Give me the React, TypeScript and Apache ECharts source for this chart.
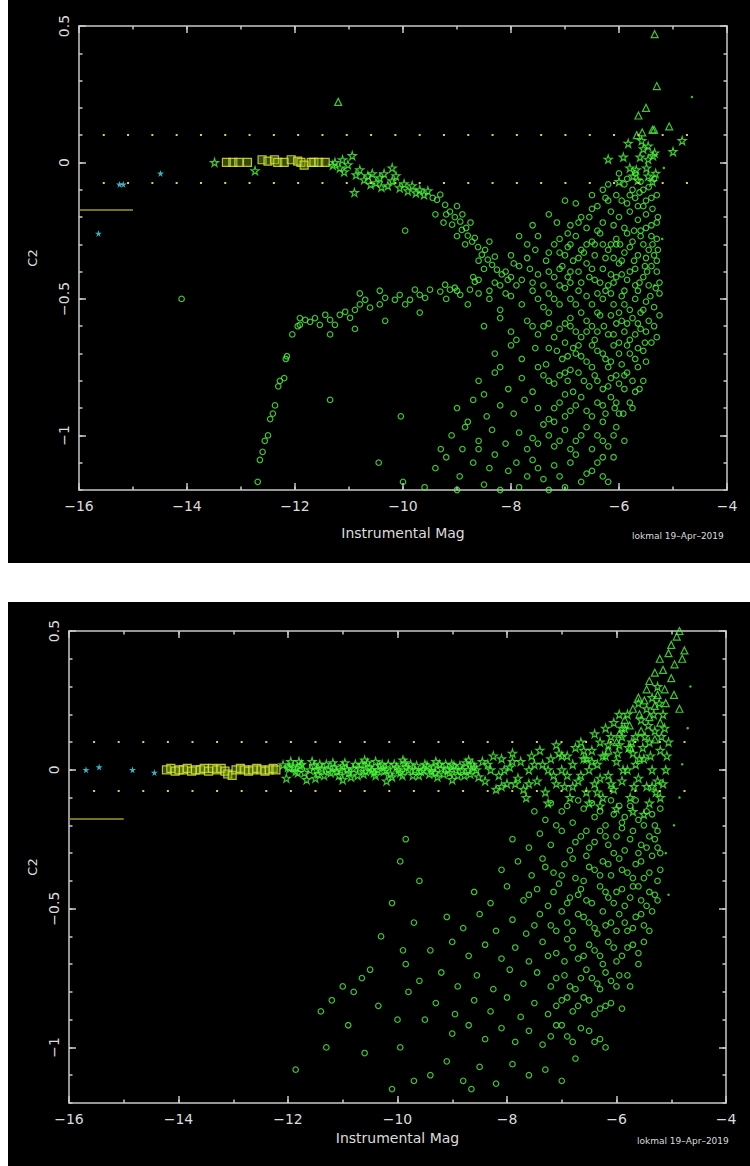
import React, { useEffect, useRef } from "react";
import * as echarts from "echarts";

// ---------- TOP PANEL DATA (x = instrumental mag, y = C2) ----------
const topCyanStars = [-15.25, -0.08, -15.18, -0.08, -14.49, -0.04, -15.64, -0.26];
const topSquares = [
  -13.27, 0.0, -13.15, 0.0, -13.04, 0.0, -12.88, 0.0, -12.61, 0.01, -12.5, 0.005, -12.38, 0.01, -12.32, 0.0,
  -12.2, 0.0, -12.07, 0.01, -11.95, 0.005, -11.89, 0.0, -11.83, -0.01, -11.7, 0.0, -11.65, 0.0, -11.56, 0.0, -11.44, 0.0,
];
const topStars = [
  -13.49, 0.0, -12.74, -0.03,
  -11.26, 0.0, -11.17, -0.02, -11.09, -0.034, -11.02, -0.008, -10.94, 0.025, -10.87, -0.045, -10.8, -0.027,
  -10.72, -0.063, -10.65, -0.049, -10.57, -0.041, -10.5, -0.074, -10.43, -0.056, -10.35, -0.041, -10.28, -0.085,
  -10.2, -0.067, -10.13, -0.049, -10.06, -0.093, -9.98, -0.078, -9.91, -0.104, -9.83, -0.085, -9.76, -0.111,
  -9.69, -0.1, -9.61, -0.118, -9.54, -0.104, -10.9, -0.11, -10.2, -0.02, -11.3, -0.01, -11.12, 0.01, -10.6, -0.08,
  -10.4, -0.09,
  -5.83, 0.07, -6.2, 0.012, -5.92, 0.02, -5.58, 0.08, -5.46, 0.06, -5.55, 0.05, -5.61, 0.02, -5.46, 0.012,
  -5.37, 0.025, -5.34, 0.035, -5.8, -0.02, -5.68, -0.027, -5.49, -0.02, -5.46, -0.05, -5.74, -0.05, -5.65, -0.065,
  -5.38, -0.07, -6.0, -0.07, -5.32, -0.04, -4.83, 0.08, -5.0, 0.04,
];
const topTriangles = [
  -11.2, 0.222, -5.34, 0.47, -5.3, 0.28, -5.5, 0.2, -5.64, 0.172, -5.38, 0.12, -5.35, 0.12, -5.07, 0.132,
  -5.67, 0.1, -5.57, 0.11,
];
const topDots = [-4.65, 0.24, -5.17, -0.02, -5.2, -0.28, -5.34, -0.45];
const topCircles = [
  -14.1, -0.5, -9.96, -0.25, -10.04, -0.93, -10.45, -1.1, -11.35, -0.87,
  // hook
  -11.91, -0.57, -11.95, -0.6, -12.05, -0.63, -12.15, -0.71, -12.17, -0.72, -12.2, -0.79, -12.28, -0.8,
  -12.31, -0.82, -12.37, -0.89, -12.41, -0.92, -12.46, -0.94, -12.5, -1.0, -12.56, -1.02, -12.6, -1.06,
  -12.65, -1.09, -12.69, -1.17,
  // lower branch
  -11.81, -0.577, -11.91, -0.595, -11.72, -0.584, -11.63, -0.57, -11.54, -0.595, -11.44, -0.558, -11.35, -0.577,
  -11.26, -0.595, -11.17, -0.558, -11.07, -0.547, -10.98, -0.569, -10.89, -0.54, -10.8, -0.52, -10.7, -0.503,
  -10.61, -0.532, -10.43, -0.52, -10.33, -0.496, -10.15, -0.503, -10.06, -0.485, -9.96, -0.52, -9.87, -0.503,
  -9.78, -0.466, -9.69, -0.485, -9.59, -0.496, -9.5, -0.466, -9.31, -0.473, -9.22, -0.448, -9.13, -0.466,
  -9.04, -0.459, -8.94, -0.485, -8.76, -0.466, -8.67, -0.437, -11.35, -0.63, -10.89, -0.61, -10.33, -0.58,
  -9.69, -0.55, -10.43, -0.47, -10.8, -0.48,
  // upper branch
  -9.37, -0.137, -9.22, -0.155, -9.13, -0.18, -9.04, -0.2, -8.94, -0.217, -8.91, -0.247, -8.8, -0.268,
  -8.72, -0.29, -8.61, -0.31, -8.54, -0.338, -8.43, -0.356, -8.35, -0.375, -8.26, -0.393, -8.17, -0.41,
  -8.06, -0.43, -9.31, -0.118, -9.09, -0.228, -8.83, -0.24, -8.67, -0.276, -8.48, -0.32, -8.3, -0.345,
  -9.45, -0.13, -9.2, -0.19, -9.0, -0.16, -9.4, -0.19, -9.25, -0.22, -9.0, -0.27, -8.85, -0.3, -8.75, -0.22,
  -8.6, -0.36, -8.4, -0.29, -8.9, -0.19,
  // main cloud
  -5.9, -0.08, -5.75, -0.1, -5.6, -0.07, -5.45, -0.09, -5.3, -0.12, -5.7, -0.13, -5.5, -0.14, -6.05, -0.12,
  -5.85, -0.15, -5.35, -0.06, -5.62, -0.11, -6.2, -0.14,
  -6.7, -0.2, -6.5, -0.17, -6.3, -0.22, -6.15, -0.18, -6.0, -0.2, -5.9, -0.24, -5.8, -0.18, -5.65, -0.21,
  -5.5, -0.19, -5.4, -0.23, -5.28, -0.2, -6.4, -0.25, -6.6, -0.24, -5.72, -0.25, -5.55, -0.16, -6.9, -0.23,
  -7.7, -0.3, -7.5, -0.27, -7.3, -0.33, -7.1, -0.28, -6.95, -0.31, -6.8, -0.27, -6.65, -0.33, -6.5, -0.29,
  -6.35, -0.26, -6.2, -0.32, -6.05, -0.28, -5.9, -0.33, -5.75, -0.29, -5.6, -0.27, -5.45, -0.32, -5.3, -0.28,
  -5.5, -0.35, -6.75, -0.35, -7.0, -0.34, -6.1, -0.35, -5.85, -0.26, -7.2, -0.3,
  -8.7, -0.42, -8.5, -0.39, -8.3, -0.44, -8.1, -0.4, -7.95, -0.37, -7.8, -0.43, -7.65, -0.39, -7.5, -0.41,
  -7.35, -0.36, -7.2, -0.42, -7.05, -0.38, -6.9, -0.44, -6.75, -0.4, -6.6, -0.37, -6.45, -0.43, -6.3, -0.39,
  -6.15, -0.41, -6.0, -0.37, -5.85, -0.43, -5.7, -0.39, -5.55, -0.42, -5.4, -0.38, -5.25, -0.44, -7.9, -0.45,
  -7.4, -0.45, -6.85, -0.36, -6.2, -0.45, -5.95, -0.41, -8.0, -0.42, -7.6, -0.44,
  -9.2, -0.5, -9.0, -0.47, -8.8, -0.52, -8.6, -0.48, -8.4, -0.5, -8.2, -0.54, -8.0, -0.49, -7.8, -0.52,
  -7.6, -0.47, -7.4, -0.53, -7.2, -0.5, -7.0, -0.46, -6.8, -0.52, -6.6, -0.49, -6.4, -0.55, -6.25, -0.47,
  -6.1, -0.52, -5.95, -0.49, -5.8, -0.54, -5.65, -0.47, -5.5, -0.51, -5.35, -0.53, -5.25, -0.48, -6.0, -0.55,
  -6.7, -0.55,
  -8.5, -0.6, -8.2, -0.57, -8.0, -0.62, -7.7, -0.58, -7.5, -0.63, -7.3, -0.59, -7.1, -0.61, -6.9, -0.57,
  -6.7, -0.64, -6.5, -0.6, -6.35, -0.56, -6.2, -0.63, -6.05, -0.59, -5.9, -0.62, -5.75, -0.57, -5.6, -0.61,
  -5.45, -0.58, -5.3, -0.64, -5.8, -0.65, -6.45, -0.65,
  -8.3, -0.7, -8.0, -0.67, -7.8, -0.72, -7.55, -0.68, -7.35, -0.74, -7.15, -0.69, -6.95, -0.71, -6.75, -0.67,
  -6.6, -0.73, -6.4, -0.69, -6.25, -0.72, -6.1, -0.67, -5.95, -0.74, -5.8, -0.7, -5.65, -0.68, -5.5, -0.73,
  -5.4, -0.66, -6.5, -0.75, -7.0, -0.66,
  -8.6, -0.8, -8.3, -0.77, -8.05, -0.83, -7.8, -0.79, -7.6, -0.84, -7.4, -0.78, -7.2, -0.81, -7.0, -0.77,
  -6.85, -0.84, -6.65, -0.8, -6.45, -0.78, -6.3, -0.83, -6.15, -0.79, -6.0, -0.81, -5.85, -0.77, -5.7, -0.84,
  -5.55, -0.8, -6.9, -0.76,
  -9.0, -0.9, -8.7, -0.87, -8.45, -0.93, -8.2, -0.89, -7.95, -0.92, -7.75, -0.87, -7.5, -0.9, -7.3, -0.94,
  -7.1, -0.88, -6.9, -0.91, -6.7, -0.86, -6.5, -0.93, -6.3, -0.89, -6.15, -0.86, -6.0, -0.92, -5.8, -0.88,
  -9.1, -1.0, -8.85, -0.97, -8.6, -1.02, -8.35, -0.98, -8.1, -1.03, -7.85, -0.99, -7.6, -1.01, -7.4, -0.96,
  -7.2, -1.04, -7.0, -0.98, -6.8, -1.02, -6.6, -0.97, -6.4, -1.0, -6.2, -1.04, -6.05, -0.97, -5.9, -1.02,
  -9.4, -1.12, -9.2, -1.08, -8.95, -1.15, -8.7, -1.1, -8.5, -1.18, -8.3, -1.07, -8.05, -1.13, -7.85, -1.19,
  -7.6, -1.09, -7.4, -1.16, -7.2, -1.11, -7.0, -1.19, -6.8, -1.07, -6.6, -1.14, -6.4, -1.1, -6.2, -1.17,
  -6.1, -1.08, -9.6, -1.19, -10.0, -1.17, -9.0, -1.2, -7.3, -1.2, -8.2, -1.2,
  -7.0, -0.14, -6.8, -0.15, -7.3, -0.19, -7.6, -0.23, -7.85, -0.27, -6.5, -0.12, -6.3, -0.1, -6.2, -0.08,
  -6.05, -0.3, -5.95, -0.36, -5.8, -0.31, -5.65, -0.34, -5.55, -0.3, -5.35, -0.34, -6.3, -0.3, -6.45, -0.34,
  -5.7, -0.45, -5.9, -0.47, -6.1, -0.44, -5.45, -0.45, -5.6, -0.55, -5.85, -0.59, -6.15, -0.56, -5.5, -0.62,
  -5.7, -0.63, -6.0, -0.66, -5.65, -0.75, -5.9, -0.78, -6.2, -0.75, -5.75, -0.9, -6.05, -0.88, -6.3, -0.95,
  -6.1, -1.0, -6.3, -1.08, -5.6, -0.25, -5.4, -0.27, -5.3, -0.36, -5.25, -0.56, -5.3, -0.4, -6.6, -0.3,
  -6.9, -0.4, -7.1, -0.45, -7.3, -0.55, -7.6, -0.6, -7.9, -0.65, -8.2, -0.75, -8.5, -0.85, -8.8, -0.95,
  -9.3, -1.05, -7.5, -0.75, -7.0, -0.85, -6.6, -0.62, -6.8, -0.7, -7.2, -0.95, -7.7, -1.05, -6.4, -0.48,
  -6.55, -0.42, -6.9, -0.6,
  -7.15, -0.22, -6.95, -0.26, -6.75, -0.22, -6.55, -0.2, -6.4, -0.16, -6.25, -0.13, -6.1, -0.23, -5.95, -0.14,
  -5.8, -0.12, -5.65, -0.16, -5.5, -0.24, -5.38, -0.17, -5.3, -0.22, -6.0, -0.04, -5.85, -0.06, -5.7, -0.04,
  -5.55, -0.1, -5.4, -0.13,
  -7.1, -0.33, -6.9, -0.3, -6.7, -0.32, -6.45, -0.3, -6.25, -0.35, -6.15, -0.3, -5.98, -0.3, -5.72, -0.36,
  -5.52, -0.38, -5.38, -0.3, -5.28, -0.32,
  -7.3, -0.4, -7.1, -0.39, -6.95, -0.42, -6.7, -0.44, -6.5, -0.39, -6.35, -0.44, -6.05, -0.42, -5.8, -0.4,
  -5.62, -0.44, -5.48, -0.4, -5.32, -0.46,
  -7.5, -0.5, -7.3, -0.48, -7.1, -0.52, -6.9, -0.5, -6.75, -0.47, -6.5, -0.52, -6.3, -0.5, -6.15, -0.48,
  -5.9, -0.52, -5.7, -0.5, -5.55, -0.54, -5.42, -0.49,
  -7.4, -0.6, -7.2, -0.64, -7.0, -0.59, -6.8, -0.62, -6.6, -0.58, -6.4, -0.62, -6.28, -0.6, -6.1, -0.63,
  -5.95, -0.58, -5.65, -0.59, -5.52, -0.66, -5.35, -0.6,
  -7.3, -0.68, -7.05, -0.72, -6.85, -0.68, -6.7, -0.71, -6.5, -0.67, -6.3, -0.7, -6.15, -0.73, -6.0, -0.7,
  -5.85, -0.67, -5.7, -0.72, -5.55, -0.69,
  -7.3, -0.8, -7.1, -0.78, -6.95, -0.8, -6.75, -0.77, -6.55, -0.82, -6.4, -0.8, -6.2, -0.82, -6.05, -0.78,
  -5.9, -0.83, -5.75, -0.8, -5.62, -0.83,
  -7.2, -0.9, -7.0, -0.93, -6.8, -0.89, -6.6, -0.91, -6.4, -0.88, -6.25, -0.92, -6.08, -0.9, -5.92, -0.92,
  -7.5, -1.03, -7.3, -1.0, -7.1, -1.02, -6.9, -1.05, -6.7, -1.0, -6.5, -1.05, -6.3, -1.02,
  -7.5, -1.12, -7.1, -1.15, -6.9, -1.1, -6.7, -1.17, -6.5, -1.13, -6.3, -1.15, -7.7, -1.15, -7.9, -1.1,
  -8.4, -1.12, -8.6, -1.05, -8.9, -1.05,
  -8.2, -0.45, -8.4, -0.47, -8.6, -0.43, -8.1, -0.48, -7.7, -0.35, -7.55, -0.32, -7.85, -0.38, -8.0, -0.34,
];

// ---------- BOTTOM PANEL DATA ----------
const botCyanStars = [-15.69, 0.0, -15.45, 0.01, -14.84, 0.0, -14.44, -0.01];
const botSquares = [
  -14.22, 0.0, -14.14, 0.005, -14.06, -0.005, -13.99, 0.0, -13.91, 0.0, -13.84, 0.005, -13.76, -0.005,
  -13.69, 0.0, -13.6, 0.0, -13.53, 0.005, -13.45, -0.005, -13.38, 0.005, -13.3, 0.0, -13.22, 0.005,
  -13.15, -0.005, -13.1, -0.015, -13.02, -0.02, -12.95, 0.0, -12.87, 0.005, -12.79, 0.0, -12.72, -0.005,
  -12.64, 0.0, -12.57, 0.005, -12.49, 0.0, -12.42, -0.005, -12.34, 0.0, -12.27, 0.005, -12.22, 0.0,
];
const botStars = [
  -12.09, 0.018, -11.97, 0.006, -12.03, -0.03, -11.66, -0.035, -12.0, 0.01, -11.95, 0.03,
  -11.9, 0.01, -11.82, -0.01, -11.75, 0.02, -11.6, 0.0, -11.52, 0.015, -11.45, -0.015, -11.38, 0.005,
  -11.3, 0.02, -11.22, -0.01, -11.15, 0.01, -11.07, -0.02, -11.0, 0.015, -10.92, 0.0, -10.85, -0.025,
  -10.77, 0.02, -10.7, 0.005, -10.62, -0.015, -10.55, 0.025, -10.47, 0.0, -10.4, -0.02, -10.32, 0.015,
  -10.25, -0.005, -10.17, 0.02, -10.1, -0.025, -10.02, 0.01, -9.95, -0.01, -9.87, 0.025, -9.8, 0.0,
  -9.72, -0.02, -9.65, 0.015, -9.57, -0.005, -9.5, 0.02, -9.42, -0.015, -9.35, 0.01, -9.27, -0.025,
  -9.2, 0.005, -9.12, 0.02, -9.05, -0.01, -8.97, 0.015, -8.9, -0.02, -8.82, 0.0, -8.75, 0.025,
  -8.67, -0.015, -8.6, 0.01, -8.52, -0.025, -11.5, -0.03, -11.0, -0.035, -10.6, 0.035, -10.2, -0.04,
  -9.9, 0.035, -9.3, 0.03, -9.0, -0.035, -8.7, 0.035, -11.8, 0.03, -10.4, 0.03,
  -11.86, -0.005, -11.78, 0.015, -11.7, -0.01, -11.56, 0.03, -11.48, 0.0, -11.42, 0.02, -11.34, -0.02,
  -11.26, 0.0, -11.18, 0.025, -11.11, -0.005, -11.04, 0.0, -10.96, 0.025, -10.89, -0.01, -10.81, 0.005,
  -10.73, -0.02, -10.66, 0.02, -10.58, -0.005, -10.51, 0.01, -10.43, -0.01, -10.36, 0.0, -10.28, 0.02,
  -10.21, 0.0, -10.13, -0.015, -10.06, 0.02, -9.98, 0.0, -9.91, -0.02, -9.84, 0.01, -9.76, 0.02,
  -9.68, 0.0, -9.61, -0.02, -9.53, 0.0, -9.46, 0.015, -9.38, -0.005, -9.31, -0.01, -9.23, 0.02,
  -9.16, -0.015, -9.08, 0.0, -9.01, 0.02, -8.93, 0.0, -8.86, 0.015, -8.78, -0.02, -8.71, 0.0, -8.63, 0.02,
  -8.56, 0.0,
  -8.45, 0.03, -8.4, -0.04, -8.3, 0.0, -8.25, 0.05, -8.15, -0.02, -8.1, 0.04, -8.0, -0.05, -7.95, 0.01,
  -7.9, 0.06, -7.8, -0.03, -7.75, 0.03, -7.7, -0.07, -7.6, 0.0, -7.55, 0.05, -8.2, -0.07, -7.65, -0.1,
  -7.45, -0.04, -7.4, 0.07, -7.35, 0.02, -7.3, -0.08, -7.2, 0.04, -7.15, -0.02, -7.1, 0.09, -7.0, 0.0,
  -6.95, -0.06, -6.9, 0.05, -6.85, -0.1, -6.8, 0.02, -6.75, 0.08, -6.7, -0.04, -6.6, 0.04, -6.55, -0.08,
  -6.5, 0.0, -7.25, -0.12, -6.65, 0.1, -7.05, 0.06,
  -6.45, 0.07, -6.4, -0.05, -6.35, 0.02, -6.3, 0.1, -6.25, -0.1, -6.2, 0.05, -6.15, -0.02, -6.1, 0.12,
  -6.05, -0.07, -6.0, 0.03, -5.95, 0.09, -5.9, -0.04, -5.85, 0.15, -5.8, 0.0, -5.75, -0.1, -5.7, 0.06,
  -5.65, 0.12, -5.6, -0.03, -5.55, 0.18, -5.5, 0.04, -5.45, -0.06, -5.4, 0.1, -5.35, 0.0, -5.3, 0.14,
  -5.25, -0.04, -5.2, 0.07, -5.15, 0.2, -5.1, 0.0, -6.3, -0.13, -6.0, -0.14, -5.7, -0.15, -5.4, -0.12,
  -6.2, 0.15, -5.95, 0.2, -5.6, 0.24, -5.35, 0.26, -5.25, 0.3, -5.45, 0.22, -5.8, 0.2, -6.05, 0.17,
  -5.5, -0.16, -5.2, -0.1, -6.5, -0.12, -6.4, 0.13, -5.9, 0.12, -5.15, -0.05, -5.05, 0.1,
  -8.35, 0.02, -8.05, 0.0, -7.85, -0.05, -7.5, 0.02, -7.25, 0.0, -7.0, 0.05, -6.8, -0.06, -6.65, -0.02,
  -6.45, 0.03, -6.35, -0.08, -6.25, 0.05, -6.1, -0.05, -5.98, 0.06, -5.88, 0.0, -5.78, 0.08, -5.68, -0.06,
  -5.58, 0.04, -5.48, 0.12, -5.38, 0.05, -5.28, -0.08, -5.18, 0.12, -5.08, 0.05, -6.15, 0.09, -5.9, 0.15,
  -5.72, 0.1, -5.52, 0.08, -5.42, 0.16, -5.32, 0.2, -5.22, 0.24, -5.12, 0.15, -6.6, 0.07, -6.9, -0.02,
  -7.1, -0.05, -7.6, -0.05, -7.9, 0.03, -8.1, -0.06, -6.3, -0.03, -6.55, 0.04, -5.65, 0.02, -5.35, -0.06,
];
const botTriangles = [
  -4.85, 0.5, -5.0, 0.45, -4.76, 0.43, -5.21, 0.4, -4.94, 0.38, -5.4, 0.32, -5.12, 0.29, -5.49, 0.25,
  -5.3, 0.23, -5.58, 0.2, -5.76, 0.16, -5.95, 0.13, -4.9, 0.48, -5.05, 0.42, -4.8, 0.4, -5.15, 0.36,
  -5.3, 0.35, -5.0, 0.33, -5.45, 0.29, -5.25, 0.27, -5.6, 0.26, -5.1, 0.24, -5.7, 0.22, -5.4, 0.19,
  -5.85, 0.18, -5.2, 0.17, -5.55, 0.14, -6.0, 0.1, -5.3, 0.11, -5.75, 0.08, -6.15, 0.07, -4.95, 0.27,
  -4.85, 0.22,
];
const botDots = [-4.65, 0.3, -4.7, 0.15, -4.8, 0.02, -4.85, -0.1, -4.95, -0.2, -5.05, -0.45, -5.1, -0.3];
const botCircles = [
  -7.3, -0.18, -7.0, -0.15, -6.8, -0.19, -6.6, -0.14, -6.4, -0.17, -6.2, -0.2, -6.05, -0.16, -5.9, -0.19,
  -5.75, -0.13, -5.6, -0.18, -5.45, -0.15, -5.3, -0.2, -5.2, -0.14, -6.7, -0.11, -6.1, -0.11,
  -7.9, -0.25, -7.6, -0.28, -7.4, -0.23, -7.2, -0.27, -7.0, -0.22, -6.85, -0.29, -6.65, -0.24, -6.5, -0.28,
  -6.3, -0.22, -6.15, -0.27, -6.0, -0.24, -5.85, -0.29, -5.7, -0.22, -5.55, -0.27, -5.4, -0.24, -5.25, -0.28,
  -5.9, -0.21,
  -8.1, -0.36, -7.8, -0.33, -7.55, -0.38, -7.35, -0.32, -7.15, -0.37, -6.95, -0.34, -6.75, -0.39, -6.55, -0.31,
  -6.4, -0.36, -6.25, -0.33, -6.1, -0.38, -5.95, -0.32, -5.8, -0.37, -5.65, -0.34, -5.5, -0.39, -5.35, -0.31,
  -5.2, -0.36, -6.6, -0.4,
  -8.6, -0.44, -8.3, -0.48, -8.0, -0.42, -7.7, -0.47, -7.45, -0.43, -7.25, -0.49, -7.05, -0.41, -6.85, -0.46,
  -6.65, -0.43, -6.45, -0.48, -6.3, -0.42, -6.15, -0.46, -6.0, -0.44, -5.85, -0.49, -5.7, -0.42, -5.55, -0.47,
  -5.4, -0.44, -5.25, -0.47,
  -9.1, -0.53, -8.8, -0.57, -8.5, -0.52, -8.2, -0.58, -7.9, -0.54, -7.65, -0.59, -7.4, -0.52, -7.2, -0.56,
  -7.0, -0.51, -6.8, -0.58, -6.6, -0.53, -6.4, -0.57, -6.25, -0.51, -6.1, -0.55, -5.95, -0.52, -5.8, -0.58,
  -5.65, -0.53, -5.5, -0.56, -5.35, -0.51,
  -9.4, -0.65, -9.0, -0.62, -8.7, -0.67, -8.4, -0.63, -8.1, -0.68, -7.85, -0.64, -7.6, -0.69, -7.35, -0.62,
  -7.1, -0.66, -6.9, -0.61, -6.7, -0.68, -6.5, -0.63, -6.3, -0.67, -6.15, -0.62, -6.0, -0.69, -5.8, -0.64,
  -5.6, -0.7, -5.5, -0.62,
  -9.6, -0.76, -9.2, -0.73, -8.9, -0.78, -8.55, -0.74, -8.25, -0.79, -7.95, -0.72, -7.7, -0.77, -7.45, -0.73,
  -7.2, -0.78, -6.95, -0.74, -6.75, -0.79, -6.55, -0.72, -6.35, -0.77, -6.2, -0.73, -6.0, -0.78, -5.8, -0.74,
  -9.3, -0.84, -8.95, -0.88, -8.6, -0.83, -8.3, -0.87, -8.0, -0.82, -7.75, -0.89, -7.5, -0.84, -7.25, -0.88,
  -7.0, -0.83, -6.8, -0.87, -6.6, -0.82, -6.4, -0.88, -6.2, -0.85, -5.9, -0.86,
  -9.0, -0.95, -8.7, -0.92, -8.4, -0.97, -8.1, -0.93, -7.85, -0.98, -7.6, -0.94, -7.35, -0.99, -7.1, -0.92,
  -6.9, -0.96, -6.65, -0.93, -6.4, -0.98, -6.2, -1.0,
  -9.4, -1.1, -9.1, -1.05, -8.8, -1.12, -8.5, -1.07, -8.2, -1.13, -7.9, -1.06, -7.6, -1.1, -7.3, -1.08,
  -7.0, -1.12, -6.75, -1.04, -8.65, -1.15,
  -11.86, -1.08, -11.4, -0.87, -11.2, -0.83, -11.0, -0.78, -10.8, -0.8, -10.65, -0.75, -10.5, -0.72,
  -10.3, -0.6, -10.1, -0.48, -9.95, -0.33, -9.85, -0.25, -9.9, -0.65, -9.85, -0.7, -10.0, -0.9, -9.95, -1.0,
  -10.1, -1.15, -9.7, -0.55, -9.6, -0.4, -9.5, -0.9, -9.7, -1.12, -10.6, -1.02, -10.9, -0.92, -11.3, -1.0,
  -10.35, -0.85, -9.8, -0.8,
  -7.5, -0.15, -7.2, -0.12, -6.9, -0.13, -6.45, -0.12, -6.3, -0.15, -5.95, -0.13, -5.85, -0.17, -5.65, -0.11,
  -5.5, -0.2, -5.35, -0.16, -5.25, -0.22,
  -7.1, -0.2, -6.75, -0.26, -6.55, -0.22, -6.4, -0.26, -6.2, -0.24, -6.05, -0.3, -5.75, -0.25, -5.6, -0.3,
  -5.45, -0.28, -5.3, -0.25, -5.2, -0.3,
  -7.3, -0.35, -7.0, -0.38, -6.8, -0.32, -6.5, -0.35, -6.3, -0.38, -6.15, -0.34, -5.9, -0.36, -5.7, -0.39,
  -5.55, -0.33, -5.4, -0.37, -5.25, -0.4,
  -7.6, -0.45, -7.15, -0.44, -6.9, -0.48, -6.7, -0.45, -6.55, -0.47, -6.2, -0.44, -6.05, -0.48, -5.9, -0.43,
  -5.75, -0.46, -5.6, -0.42, -5.45, -0.49, -5.3, -0.45,
  -7.5, -0.56, -7.1, -0.58, -6.9, -0.55, -6.7, -0.52, -6.5, -0.55, -6.35, -0.59, -6.2, -0.56, -6.0, -0.58,
  -5.85, -0.55, -5.7, -0.57, -5.55, -0.52, -5.4, -0.58,
  -7.25, -0.67, -6.95, -0.69, -6.8, -0.64, -6.6, -0.67, -6.4, -0.65, -6.25, -0.7, -6.05, -0.64, -5.9, -0.67,
  -5.7, -0.63, -5.6, -0.66,
  -7.1, -0.75, -6.85, -0.78, -6.65, -0.75, -6.45, -0.75, -6.3, -0.79, -6.1, -0.76, -5.95, -0.74, -5.75, -0.78,
  -7.1, -0.85, -6.9, -0.82, -6.7, -0.85, -6.5, -0.83, -6.3, -0.86, -6.1, -0.84,
  -7.2, -0.96, -7.0, -0.92, -6.8, -0.98, -6.5, -0.94, -6.3, -0.97,
];

const X_TICKS_MAJOR = 2;
const X_TICKS_MINOR = 1;
const Y_TICKS_MAJOR = [-1, -0.5, 0, 0.5];
const Y_TICKS_MINOR = 0.1;

const pairs = (a: number[]) => {
  const r: number[][] = [];
  for (let i = 0; i < a.length; i += 2) r.push([a[i], a[i + 1]]);
  return r;
};

const GREEN = "#4cf83c";
const CYAN = "#44dcee";
const YELLOW = "#e6e83a";
const FRAME = "#c8c8c8";
const TXT = "#dcdcdc";
const FONT = "'DejaVu Sans', sans-serif";
const STAR = "path://M50,0 L61,35 L98,35 L68,57 L79,91 L50,70 L21,91 L32,57 L2,35 L39,35 Z";
const minus = (v: number) => {
  const s = String(Math.round(v * 100) / 100);
  return s.replace("-", "\u2212");
};

function axesFor(g: number, nameGapX: number, nameGapY: number) {
  const base = { gridIndex: g, type: "value" as const, splitLine: { show: false } };
  const lineS = { lineStyle: { color: FRAME, width: 1.5 } };
  const axLine = { show: true, onZero: false, ...lineS };
  const noLine = { show: false, onZero: false };
  const xs = [
    { ...base, position: "bottom", min: -16, max: -4, interval: X_TICKS_MINOR, axisLine: axLine,
      axisTick: { show: true, inside: true, length: 3.5, ...lineS }, axisLabel: { show: false } },
    { ...base, position: "bottom", min: -16, max: -4, interval: X_TICKS_MAJOR, axisLine: noLine,
      axisTick: { show: true, inside: true, length: 7, ...lineS },
      axisLabel: { show: true, color: TXT, fontSize: 14, fontFamily: FONT, margin: 9, formatter: minus },
      name: "Instrumental Mag", nameLocation: "middle", nameGap: nameGapX,
      nameTextStyle: { color: TXT, fontSize: 14, fontFamily: FONT } },
    { ...base, position: "top", min: -16, max: -4, interval: X_TICKS_MINOR, axisLine: axLine,
      axisTick: { show: true, inside: true, length: 3.5, ...lineS }, axisLabel: { show: false } },
    { ...base, position: "top", min: -16, max: -4, interval: X_TICKS_MAJOR, axisLine: noLine,
      axisTick: { show: true, inside: true, length: 7, ...lineS }, axisLabel: { show: false } },
  ];
  const ys = [
    { ...base, position: "left", min: -1.2, max: 0.5, interval: Y_TICKS_MINOR, axisLine: axLine,
      axisTick: { show: true, inside: true, length: 3.5, ...lineS }, axisLabel: { show: false } },
    { ...base, position: "left", min: -1.2, max: 0.5, axisLine: noLine,
      axisTick: { show: true, inside: true, length: 7, customValues: Y_TICKS_MAJOR, ...lineS },
      axisLabel: { show: true, customValues: Y_TICKS_MAJOR, rotate: 90, color: TXT, fontSize: 14,
        fontFamily: FONT, margin: 8, formatter: minus },
      name: "C2", nameLocation: "middle", nameGap: nameGapY, nameRotate: 90,
      nameTextStyle: { color: TXT, fontSize: 13, fontFamily: FONT } },
    { ...base, position: "right", min: -1.2, max: 0.5, interval: Y_TICKS_MINOR, axisLine: axLine,
      axisTick: { show: true, inside: true, length: 3.5, ...lineS }, axisLabel: { show: false } },
    { ...base, position: "right", min: -1.2, max: 0.5, axisLine: noLine,
      axisTick: { show: true, inside: true, length: 7, customValues: Y_TICKS_MAJOR, ...lineS },
      axisLabel: { show: false } },
  ];
  return { xs, ys };
}

function seriesFor(
  ai: number,
  d: { circles: number[]; stars: number[]; tris: number[]; squares: number[]; cyan: number[]; dots: number[] },
  dash: number
) {
  const common = { type: "scatter" as const, xAxisIndex: ai, yAxisIndex: ai, silent: true };
  const hollow = (c: string) => ({ color: "rgba(0,0,0,0)", borderColor: c, borderWidth: 1.2 });
  return [
    { ...common, symbol: "circle", symbolSize: 5.5, itemStyle: hollow(GREEN), data: pairs(d.circles) },
    { ...common, symbol: "circle", symbolSize: 2.5, itemStyle: { color: GREEN }, data: pairs(d.dots) },
    { ...common, symbol: STAR, symbolSize: 8, itemStyle: hollow(GREEN), data: pairs(d.stars) },
    { ...common, symbol: "triangle", symbolSize: 7, itemStyle: hollow(GREEN), data: pairs(d.tris) },
    { ...common, symbol: "rect", symbolSize: 8,
      itemStyle: { color: "rgba(120,170,20,0.55)", borderColor: YELLOW, borderWidth: 1.2 }, data: pairs(d.squares) },
    { ...common, symbol: STAR, symbolSize: 7, itemStyle: { color: CYAN }, data: pairs(d.cyan),
      markLine: {
        silent: true, symbol: "none", label: { show: false }, animation: false,
        lineStyle: { color: "#d6d83a", width: 2, type: [2, dash], opacity: 1 },
        data: [
          [{ coord: [-15.56, 0.1] }, { coord: [-4.7, 0.1] }],
          [{ coord: [-15.56, -0.075] }, { coord: [-4.7, -0.075] }],
          [{ coord: [-16, -0.175], lineStyle: { color: "#9a9a2e", width: 1.5, type: "solid" } },
           { coord: [-15, -0.175] }],
        ],
      } },
  ];
}

export default function App() {
  const ref = useRef<HTMLDivElement>(null);
  useEffect(() => {
    if (!ref.current) return;
    const chart = echarts.init(ref.current, undefined, { renderer: "svg" });
    const a = axesFor(0, 36, 40);
    const b = axesFor(1, 28, 30);
    const option: any = {
      animation: false,
      backgroundColor: "#ffffff",
      grid: [
        { left: 79, top: 26, width: 648, height: 464 },
        { left: 69, top: 631, width: 657, height: 472 },
      ],
      xAxis: [...a.xs, ...b.xs],
      yAxis: [...a.ys, ...b.ys],
      graphic: [
        { type: "rect", z: -10, silent: true, shape: { x: 8, y: 0, width: 742, height: 563 }, style: { fill: "#000" } },
        { type: "rect", z: -10, silent: true, shape: { x: 8, y: 602, width: 742, height: 564 }, style: { fill: "#000" } },
        { type: "text", x: 632, y: 531, silent: true,
          style: { text: "lokmal 19\u2013Apr\u20132019", fill: TXT, fontSize: 9, fontFamily: FONT } },
        { type: "text", x: 637, y: 1136, silent: true,
          style: { text: "lokmal 19\u2013Apr\u20132019", fill: TXT, fontSize: 9, fontFamily: FONT } },
      ],
      series: [
        ...seriesFor(0, { circles: topCircles, stars: topStars, tris: topTriangles, squares: topSquares,
          cyan: topCyanStars, dots: topDots }, 22.3),
        ...seriesFor(4, { circles: botCircles, stars: botStars, tris: botTriangles, squares: botSquares,
          cyan: botCyanStars, dots: botDots }, 22.6),
      ],
    };
    chart.setOption(option);
    return () => chart.dispose();
  }, []);
  return <div ref={ref} style={{ position: "absolute", left: 0, top: 0, width: 750, height: 1166 }} />;
}
